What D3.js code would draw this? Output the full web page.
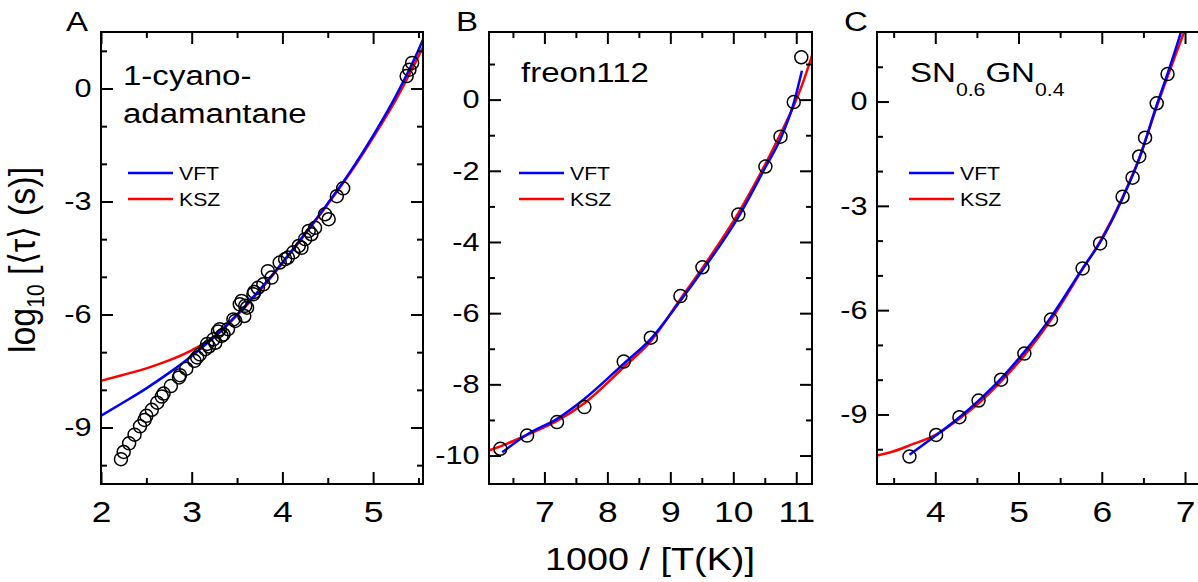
<!DOCTYPE html>
<html>
<head>
<meta charset="utf-8">
<script src="https://cdn.jsdelivr.net/npm/d3@7"></script>
<style>
body { margin: 0; background: #fff; }
text { font-family: "Liberation Sans", Arial, sans-serif; fill: #000; }
</style>
</head>
<body>
<div id="chart"></div>
<script>
// panel A - 1-cyano-adamantane
var cyanoPts = [[2.22,-9.84],[2.25,-9.65],[2.31,-9.42],[2.37,-9.19],[2.43,-8.97],[2.48,-8.80],[2.50,-8.69],[2.56,-8.53],
  [2.62,-8.34],[2.67,-8.18],[2.69,-8.10],[2.77,-7.90],[2.86,-7.67],[2.87,-7.61],[2.94,-7.44],[3.03,-7.23],[3.06,-7.14],
  [3.09,-7.06],[3.15,-6.92],[3.17,-6.78],[3.19,-6.85],[3.24,-6.66],[3.26,-6.75],[3.29,-6.45],[3.31,-6.39],[3.33,-6.57],
  [3.35,-6.53],[3.40,-6.39],[3.46,-6.13],[3.48,-6.17],[3.53,-5.73],[3.55,-5.64],[3.58,-6.04],[3.59,-5.77],[3.61,-5.82],
  [3.68,-5.46],[3.69,-5.40],[3.73,-5.29],[3.79,-5.20],[3.84,-4.85],[3.88,-5.02],[3.97,-4.62],[4.03,-4.53],[4.06,-4.49],
  [4.12,-4.35],[4.18,-4.18],[4.21,-4.23],[4.25,-4.00],[4.29,-3.78],[4.32,-3.87],[4.36,-3.70],[4.47,-3.34],[4.51,-3.47],
  [4.60,-2.86],[4.67,-2.65],[5.37,0.33],[5.40,0.50],[5.43,0.68]];
var cyanoVFT = [[2.0,-8.69],[2.25,-8.33],[2.5,-7.96],[2.75,-7.55],[3.0,-7.10],[3.25,-6.59],[3.5,-6.0],[3.75,-5.34],
  [4.0,-4.62],[4.25,-3.85],[4.5,-3.05],[4.75,-2.2],[5.0,-1.25],[5.25,-0.2],[5.55,1.3],[5.6,1.6]];
var cyanoKSZ = [[2.0,-7.76],[2.25,-7.6],[2.5,-7.43],[2.75,-7.22],[3.0,-6.95],[3.25,-6.6],[3.5,-6.02],[3.75,-5.37],
  [4.0,-4.64],[4.25,-3.87],[4.5,-3.07],[4.75,-2.23],[5.0,-1.3],[5.25,-0.3],[5.55,1.1]];
var cyanoXTicks = [2, 3, 4, 5];
var cyanoXMinor = [2.5, 3.5, 4.5, 5.5];
var cyanoYTicks = [0, -3, -6, -9];
var cyanoYMinor = [1, -1, -2, -4, -5, -7, -8, -10];

// panel B - freon112
var freonPts = [[6.30,-9.81],[6.725,-9.44],[7.20,-9.06],[7.635,-8.64],[8.26,-7.36],[8.69,-6.69],[9.16,-5.52],
  [9.51,-4.71],[10.08,-3.23],[10.51,-1.88],[10.75,-1.04],[10.96,-0.07],[11.08,1.19]];
var freonVFT = [[6.33,-9.91],[6.725,-9.41],[7.2,-8.97],[7.635,-8.41],[8.26,-7.42],[8.69,-6.72],[9.16,-5.65],
  [9.51,-4.8],[10.08,-3.3],[10.51,-1.9],[10.75,-1.1],[10.96,-0.1],[11.09,0.81]];
var freonKSZ = [[6.1,-9.87],[6.33,-9.72],[6.725,-9.42],[7.2,-9.03],[7.635,-8.53],[8.26,-7.52],[8.69,-6.79],[9.16,-5.6],
  [9.51,-4.73],[10.08,-3.19],[10.51,-1.81],[10.75,-0.96],[10.96,-0.17],[11.09,0.4],[11.25,1.24]];
var freonXTicks = [7, 8, 9, 10, 11];
var freonXMinor = [6.5, 7.5, 8.5, 9.5, 10.5];
var freonYTicks = [0, -2, -4, -6, -8, -10];
var freonYMinor = [1, -1, -3, -5, -7, -9];

// panel C - SN0.6GN0.4
var sngnPts = [[3.69,-10.21],[4.01,-9.59],[4.29,-9.08],[4.52,-8.60],[4.79,-8.0],[5.07,-7.25],[5.39,-6.27],[5.77,-4.80],
  [5.98,-4.08],[6.25,-2.74],[6.37,-2.19],[6.45,-1.58],[6.52,-1.04],[6.66,-0.05],[6.79,0.79]];
var sngnVFT = [[3.69,-10.16],[4.01,-9.6],[4.29,-9.08],[4.52,-8.6],[4.79,-7.97],[5.07,-7.2],[5.39,-6.2],[5.77,-4.8],
  [5.98,-4.05],[6.25,-2.78],[6.45,-1.65],[6.66,-0.1],[6.79,0.8],[6.96,2.07],[7.0,2.4]];
var sngnKSZ = [[3.3,-10.18],[3.5,-10.06],[3.69,-9.89],[4.01,-9.58],[4.29,-9.12],[4.52,-8.68],[4.79,-8.05],[5.07,-7.3],
  [5.39,-6.28],[5.77,-4.82],[5.98,-4.02],[6.25,-2.75],[6.45,-1.62],[6.66,-0.15],[6.79,0.72],[7.0,2.07],[7.05,2.4]];
var sngnXTicks = [4, 5, 6, 7];
var sngnXMinor = [3.5, 4.5, 5.5, 6.5];
var sngnYTicks = [0, -3, -6, -9];
var sngnYMinor = [1, -1, -2, -4, -5, -7, -8, -10];

var svgwidth = 1198, svgheight = 582;
var top_ = 32, bottom_ = 484;
var SX = 1.18; // text in the source looks stretched sideways

var svg = d3.select("#chart").append("svg").attr("width", svgwidth).attr("height", svgheight);

var panels = [
  {id: "A", pts: cyanoPts, vft: cyanoVFT, ksz: cyanoKSZ, xt: cyanoXTicks, xm: cyanoXMinor, yt: cyanoYTicks, ym: cyanoYMinor,
   xdom: [2, 5.55], ydom: [-10.5, 1.5], left: 101, right: 423, lx: 66, legx: 128},
  {id: "B", pts: freonPts, vft: freonVFT, ksz: freonKSZ, xt: freonXTicks, xm: freonXMinor, yt: freonYTicks, ym: freonYMinor,
   xdom: [6.12, 11.25], ydom: [-10.8, 1.9], left: 489, right: 812, lx: 456, legx: 519},
  {id: "C", pts: sngnPts, vft: sngnVFT, ksz: sngnKSZ, xt: sngnXTicks, xm: sngnXMinor, yt: sngnYTicks, ym: sngnYMinor,
   xdom: [3.3, 7.3], ydom: [-11, 2], left: 877, right: 1210, lx: 844, legx: 909}
];

function stext(sel, x, y, size) {
  return sel.append("text").attr("transform", `translate(${x},${y}) scale(${SX},1)`).attr("font-size", size);
}

panels.forEach(function(p) {
  var x = d3.scaleLinear().domain(p.xdom).range([p.left, p.right]);
  var y = d3.scaleLinear().domain(p.ydom).range([bottom_, top_]);
  var g = svg.append("g");

  g.append("clipPath").attr("id", "clip" + p.id).append("rect")
    .attr("x", p.left).attr("y", top_).attr("width", p.right - p.left).attr("height", bottom_ - top_);

  var line = d3.line().x(d => x(d[0])).y(d => y(d[1])).curve(d3.curveMonotoneX);
  var curves = g.append("g").attr("clip-path", `url(#clip${p.id})`);
  curves.append("path").datum(p.ksz).attr("d", line).attr("fill", "none").attr("stroke", "#ff0000").attr("stroke-width", 2.5);
  curves.append("path").datum(p.vft).attr("d", line).attr("fill", "none").attr("stroke", "#0000ff").attr("stroke-width", 2.5);

  g.append("g").attr("clip-path", `url(#clip${p.id})`).selectAll("circle").data(p.pts).enter().append("circle")
    .attr("cx", d => x(d[0])).attr("cy", d => y(d[1])).attr("r", 6.5)
    .attr("fill", "none").attr("stroke", "#000").attr("stroke-width", 1.5);

  // axes, ticks pointing inward
  var fmt = d => String(d);
  var bx = g.append("g").attr("transform", `translate(0,${bottom_})`)
    .call(d3.axisBottom(x).tickValues(p.xt).tickSize(-12).tickPadding(17).tickFormat(fmt));
  bx.selectAll("text").attr("font-size", 30).attr("transform", `scale(${SX},1)`);
  g.append("g").attr("transform", `translate(0,${bottom_})`).call(d3.axisBottom(x).tickValues(p.xm).tickSize(-6).tickFormat(""));
  g.append("g").attr("transform", `translate(0,${top_})`).call(d3.axisTop(x).tickValues(p.xt).tickSize(-12).tickFormat(""));
  g.append("g").attr("transform", `translate(0,${top_})`).call(d3.axisTop(x).tickValues(p.xm).tickSize(-6).tickFormat(""));

  var ly = g.append("g").attr("transform", `translate(${p.left},0)`)
    .call(d3.axisLeft(y).tickValues(p.yt).tickSize(-12).tickPadding(8).tickFormat(fmt));
  ly.selectAll("text").attr("font-size", 26).attr("transform", `scale(${SX},1)`);
  g.append("g").attr("transform", `translate(${p.left},0)`).call(d3.axisLeft(y).tickValues(p.ym).tickSize(-6).tickFormat(""));
  g.append("g").attr("transform", `translate(${p.right},0)`).call(d3.axisRight(y).tickValues(p.yt).tickSize(-12).tickFormat(""));
  g.append("g").attr("transform", `translate(${p.right},0)`).call(d3.axisRight(y).tickValues(p.ym).tickSize(-6).tickFormat(""));

  g.selectAll(".domain").remove();
  g.selectAll(".tick line").attr("stroke", "#000").attr("stroke-width", 2);
  g.selectAll(".tick text").attr("font-family", "'Liberation Sans', Arial, sans-serif").attr("fill", "#000");

  g.append("rect").attr("x", p.left).attr("y", top_).attr("width", p.right - p.left).attr("height", bottom_ - top_)
    .attr("fill", "none").attr("stroke", "#000").attr("stroke-width", 2);

  // panel letter
  stext(g, p.lx, 31, 28).text(p.id);

  // legend
  [["VFT", "#0000ff", 173], ["KSZ", "#ff0000", 199]].forEach(function(l) {
    g.append("line").attr("x1", p.legx).attr("x2", p.legx + 45).attr("y1", l[2]).attr("y2", l[2])
      .attr("stroke", l[1]).attr("stroke-width", 2.5);
    stext(g, p.legx + 51, l[2] + 7, 18).text(l[0]);
  });
});

// sample names
stext(svg, 123, 85, 28).text("1-cyano-");
stext(svg, 123, 123, 28).text("adamantane");
stext(svg, 521, 82, 28).text("freon112");
var sn = stext(svg, 910, 82, 28);
sn.append("tspan").text("SN");
sn.append("tspan").attr("font-size", 18).attr("dy", 14).text("0.6");
sn.append("tspan").attr("dy", -14).text("GN");
sn.append("tspan").attr("font-size", 18).attr("dy", 14).text("0.4");

// axis titles
stext(svg, 650, 570, 32).attr("text-anchor", "middle").text("1000 / [T(K)]");
var yl = svg.append("text").attr("transform", "translate(35,260) rotate(-90) scale(1,1.1)")
  .attr("font-size", 34).attr("text-anchor", "middle");
yl.append("tspan").text("log");
yl.append("tspan").attr("font-size", 21).attr("dy", 8).text("10");
yl.append("tspan").attr("dy", -8).text(" [\u27E8\u03C4\u27E9 (s)]");
</script>
</body>
</html>
